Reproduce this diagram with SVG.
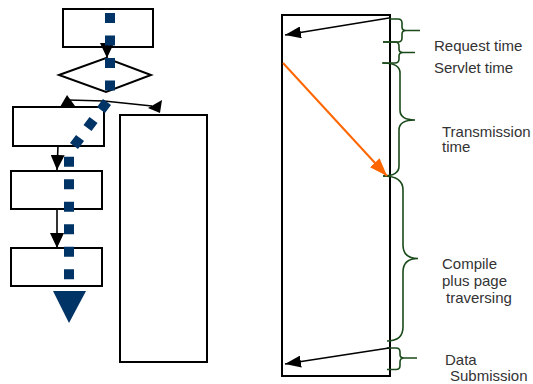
<svg xmlns="http://www.w3.org/2000/svg" width="533" height="384" viewBox="0 0 533 384">
<style>
.box{fill:none;stroke:#000;stroke-width:2}
.ln{fill:none;stroke:#000;stroke-width:1.6}
.brace{fill:none;stroke:#1a4a1a;stroke-width:1.6}
.lbl{font-family:"Liberation Sans",Arial,sans-serif;font-size:15px;fill:#333}
.flow{fill:none;stroke:#003366;stroke-width:10;stroke-dasharray:10 12.5}
</style>
<defs>
<marker id="ah" viewBox="0 0 16 12" refX="16" refY="6" markerWidth="16" markerHeight="12" markerUnits="userSpaceOnUse" orient="auto">
<path d="M0,0 L16,6 L0,12 z" fill="#000"/>
</marker>
<marker id="ahv" viewBox="0 0 15 14" refX="15" refY="7" markerWidth="15" markerHeight="14" markerUnits="userSpaceOnUse" orient="auto">
<path d="M0,0 L15,7 L0,14 z" fill="#000"/>
</marker>
<marker id="aho" viewBox="0 0 18 13" refX="18" refY="6.5" markerWidth="18" markerHeight="13" markerUnits="userSpaceOnUse" orient="auto">
<path d="M0,0 L18,6.5 L0,13 z" fill="#ff6600"/>
</marker>
</defs>

<g id="box-top"><rect class="box" x="63" y="9" width="90" height="38"/></g>
<g id="decision"><polygon class="box" points="59,75 106,58 151,75 106,92"/></g>
<g id="box-2"><rect class="box" x="13" y="107" width="91" height="39"/></g>
<g id="box-3"><rect class="box" x="11" y="171" width="91" height="38"/></g>
<g id="box-4"><rect class="box" x="11" y="248" width="91" height="38"/></g>
<g id="box-tall"><rect class="box" x="120" y="115" width="87" height="247"/></g>
<g id="timeline"><rect class="box" x="282" y="15" width="108" height="361"/></g>

<g id="braces">
<path class="brace" d="M389,19 L398,19 Q402,19 402,23 L402,27 Q402,30.5 406,30.5 L420,30.5 M406,30.5 Q402,30.5 402,34 L402,38 Q402,42 398,42 L383,42"/>
<path class="brace" d="M383,42 L395,42 Q399,42 399,46 L399,49 Q399,52.5 403,52.5 L415,52.5 M403,52.5 Q399,52.5 399,56 L399,59 Q399,63 395,63 L382,63"/>
<path class="brace" d="M383,63 Q400,63 400,73 L400,110 Q400,120 415,120 Q399,120 399,130 L399,166 Q399,176 383,176"/>
<path class="brace" d="M383,176 Q403,176 403,190 L403,245 Q403,258.5 418,258.5 Q403,258.5 403,272 L403,327 Q403,341 387,341"/>
<path class="brace" d="M387,348 L396,348 Q400,348 400,352 L400,354.5 Q400,358 404,358 L417,358 M404,358 Q400,358 400,362 L400,365.5 Q400,369.5 396,369.5 L387,369.5"/>
</g>

<g id="labels">
<text class="lbl" x="434" y="50.5">Request time</text>
<text class="lbl" x="434" y="72.5">Servlet time</text>
<text class="lbl" x="442" y="136.5">Transmission</text>
<text class="lbl" x="442" y="152">time</text>
<text class="lbl" x="442" y="269">Compile</text>
<text class="lbl" x="442" y="286">plus page</text>
<text class="lbl" x="446" y="303">traversing</text>
<text class="lbl" x="445" y="365">Data</text>
<text class="lbl" x="450" y="381">Submission</text>
</g>

<g id="connectors">
<line class="ln" x1="107" y1="47" x2="107" y2="58" marker-end="url(#ahv)"/>
<line class="ln" x1="104" y1="101" x2="68" y2="100"/>
<polygon points="60,107 67,95 75,106" fill="#000"/>
<line class="ln" x1="104" y1="101" x2="152" y2="106"/>
<polygon points="148,108 162,100 160,113" fill="#000"/>
<line class="ln" x1="58" y1="146" x2="57" y2="170" marker-end="url(#ahv)"/>
<line class="ln" x1="57" y1="209" x2="57" y2="248" marker-end="url(#ahv)"/>
<path class="flow" d="M110,13 L110,98 L69,152.7 L69,281"/>
<polygon points="53,291 86,291 69,323" fill="#003366"/>
<line class="ln" x1="389" y1="18" x2="285" y2="35" marker-end="url(#ah)"/>
<line x1="283" y1="63" x2="387" y2="176" stroke="#ff6600" stroke-width="2" marker-end="url(#aho)"/>
<line class="ln" x1="389" y1="348" x2="285" y2="364" marker-end="url(#ah)"/>
</g>
</svg>
